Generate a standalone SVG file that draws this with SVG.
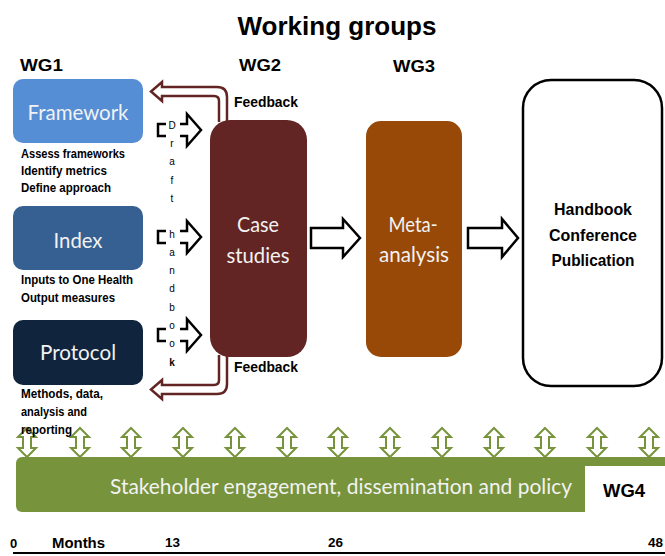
<svg xmlns="http://www.w3.org/2000/svg" width="665" height="556" viewBox="0 0 665 556">
<style>
.hd{font-family:"Liberation Sans",Arial,sans-serif;font-weight:bold;fill:#000}
.bx{font-family:Lato,"Open Sans",sans-serif;fill:#f2f2f2;text-anchor:middle}
.ds{font-family:"Liberation Sans",Arial,sans-serif;font-weight:bold;font-size:12px;fill:#000}
.lt{font-family:"Liberation Sans",Arial,sans-serif;font-size:10px;fill:#000;text-anchor:middle}
.blk{fill:#fff;stroke:#000;stroke-width:2.5;stroke-linejoin:miter}
.fb{fill:#fff;stroke:#632523;stroke-width:2.5}
.dbl{fill:#fff;stroke:#77933C;stroke-width:2}
</style>
<rect width="665" height="556" fill="#fff"/>
<text class="hd" x="337" y="35" font-size="26" text-anchor="middle" textLength="199" lengthAdjust="spacingAndGlyphs">Working groups</text>
<text class="hd" x="20" y="71" font-size="16" textLength="43" lengthAdjust="spacingAndGlyphs">WG1</text>
<text class="hd" x="239" y="71" font-size="16" textLength="42" lengthAdjust="spacingAndGlyphs">WG2</text>
<text class="hd" x="393" y="72" font-size="16" textLength="42" lengthAdjust="spacingAndGlyphs">WG3</text>

<g id="connectors">
  <path class="fb" d="M219,122 V101 Q219,96 214,96 H162 V101 L151,91.5 L162,82 V87 H217 Q227,87 227,97 V122"/>
  <path class="fb" d="M219,355 V380 Q219,385 214,385 H162 V380 L151,389.5 L162,399 V394 H217 Q227,394 227,384 V355"/>
  <path class="blk" d="M158,124 H187 V114 L201,130 L187,146 V136 H158 Z"/>
  <path class="blk" d="M158,231 H187 V221 L201,237 L187,253 V243 H158 Z"/>
  <path class="blk" d="M158,329 H187 V319 L201,335 L187,351 V341 H158 Z"/>
  <rect x="166" y="112" width="14" height="262" fill="#fff"/>
  <path class="blk" d="M311,228 H343 V219 L360,238 L343,257 V248 H311 Z"/>
  <path class="blk" d="M468,228 H502 V219 L518,238 L502,257 V248 H468 Z"/>
  <g id="stakeholder-arrows">
    <path class="dbl" d="M27,428 L36,437 H31 V448 H36 L27,457 L18,448 H23 V437 H18 Z"/>
    <path class="dbl" d="M80,428 L89,437 H84 V448 H89 L80,457 L71,448 H76 V437 H71 Z"/>
    <path class="dbl" d="M131,428 L140,437 H135 V448 H140 L131,457 L122,448 H127 V437 H122 Z"/>
    <path class="dbl" d="M183,428 L192,437 H187 V448 H192 L183,457 L174,448 H179 V437 H174 Z"/>
    <path class="dbl" d="M235,428 L244,437 H239 V448 H244 L235,457 L226,448 H231 V437 H226 Z"/>
    <path class="dbl" d="M287,428 L296,437 H291 V448 H296 L287,457 L278,448 H283 V437 H278 Z"/>
    <path class="dbl" d="M338,428 L347,437 H342 V448 H347 L338,457 L329,448 H334 V437 H329 Z"/>
    <path class="dbl" d="M390,428 L399,437 H394 V448 H399 L390,457 L381,448 H386 V437 H381 Z"/>
    <path class="dbl" d="M442,428 L451,437 H446 V448 H451 L442,457 L433,448 H438 V437 H433 Z"/>
    <path class="dbl" d="M494,428 L503,437 H498 V448 H503 L494,457 L485,448 H490 V437 H485 Z"/>
    <path class="dbl" d="M545,428 L554,437 H549 V448 H554 L545,457 L536,448 H541 V437 H536 Z"/>
    <path class="dbl" d="M597,428 L606,437 H601 V448 H606 L597,457 L588,448 H593 V437 H588 Z"/>
    <path class="dbl" d="M649,428 L658,437 H653 V448 H658 L649,457 L640,448 H645 V437 H640 Z"/>
  </g>
</g>

<g id="draft-handbook">
  <text class="lt" x="172" y="129">D</text>
  <text class="lt" x="172" y="147">r</text>
  <text class="lt" x="172" y="165">a</text>
  <text class="lt" x="172" y="184">f</text>
  <text class="lt" x="172" y="202">t</text>
  <text class="lt" x="172" y="238">h</text>
  <text class="lt" x="172" y="256">a</text>
  <text class="lt" x="172" y="274">n</text>
  <text class="lt" x="172" y="292">d</text>
  <text class="lt" x="172" y="311">b</text>
  <text class="lt" x="172" y="329">o</text>
  <text class="lt" x="172" y="347">o</text>
  <text class="lt" x="172" y="366" font-weight="bold">k</text>
</g>

<g id="framework">
  <rect x="13" y="79" width="130" height="64" rx="10" fill="#558ED5"/>
  <text class="bx" x="78" y="120" font-size="21" textLength="101" lengthAdjust="spacingAndGlyphs">Framework</text>
  <text class="ds" x="21" y="158" textLength="104" lengthAdjust="spacingAndGlyphs">Assess frameworks</text>
  <text class="ds" x="21" y="175" textLength="86" lengthAdjust="spacingAndGlyphs">Identify metrics</text>
  <text class="ds" x="21" y="192" textLength="90" lengthAdjust="spacingAndGlyphs">Define approach</text>
</g>
<g id="index">
  <rect x="13" y="206" width="130" height="64" rx="10" fill="#376092"/>
  <text class="bx" x="78" y="248" font-size="21" textLength="49" lengthAdjust="spacingAndGlyphs">Index</text>
  <text class="ds" x="21" y="284" textLength="112" lengthAdjust="spacingAndGlyphs">Inputs to One Health</text>
  <text class="ds" x="21" y="302" textLength="94" lengthAdjust="spacingAndGlyphs">Output measures</text>
</g>
<g id="protocol">
  <rect x="13" y="320" width="130" height="65" rx="10" fill="#10243E"/>
  <text class="bx" x="78" y="360" font-size="21" textLength="76" lengthAdjust="spacingAndGlyphs">Protocol</text>
  <text class="ds" x="21" y="398" textLength="82" lengthAdjust="spacingAndGlyphs">Methods, data,</text>
  <text class="ds" x="21" y="416" textLength="66" lengthAdjust="spacingAndGlyphs">analysis and</text>
  <text class="ds" x="21" y="434" textLength="51" lengthAdjust="spacingAndGlyphs">reporting</text>
</g>
<g id="case-studies">
  <rect x="210" y="120" width="97" height="237" rx="20" fill="#632523"/>
  <text class="bx" x="258" y="232" font-size="22" textLength="42" lengthAdjust="spacingAndGlyphs">Case</text>
  <text class="bx" x="258" y="263" font-size="22" textLength="63" lengthAdjust="spacingAndGlyphs">studies</text>
  <text class="hd" x="234" y="107" font-size="14" textLength="64" lengthAdjust="spacingAndGlyphs">Feedback</text>
  <text class="hd" x="234" y="372" font-size="14" textLength="64" lengthAdjust="spacingAndGlyphs">Feedback</text>
</g>
<g id="meta-analysis">
  <rect x="366" y="121" width="96" height="236" rx="15" fill="#984807"/>
  <text class="bx" x="413" y="232" font-size="22" textLength="49" lengthAdjust="spacingAndGlyphs">Meta-</text>
  <text class="bx" x="414" y="262" font-size="22" textLength="70" lengthAdjust="spacingAndGlyphs">analysis</text>
</g>
<g id="outputs">
  <rect x="523" y="80" width="139" height="306" rx="28" fill="#fff" stroke="#000" stroke-width="2.5"/>
  <text class="hd" x="593" y="215" font-size="17" text-anchor="middle" textLength="78" lengthAdjust="spacingAndGlyphs">Handbook</text>
  <text class="hd" x="593" y="241" font-size="17" text-anchor="middle" textLength="88" lengthAdjust="spacingAndGlyphs">Conference</text>
  <text class="hd" x="593" y="266" font-size="17" text-anchor="middle" textLength="83" lengthAdjust="spacingAndGlyphs">Publication</text>
</g>
<g id="stakeholder">
  <rect x="16" y="457" width="660" height="55" rx="6" fill="#77933C"/>
  <rect x="585" y="466" width="80" height="46" fill="#fff"/>
  <text x="110" y="494" font-family="Lato,'Open Sans',sans-serif" font-size="21" fill="#f2f2f2" textLength="462" lengthAdjust="spacingAndGlyphs">Stakeholder engagement, dissemination and policy</text>
  <text class="hd" x="603" y="497" font-size="18" textLength="42" lengthAdjust="spacingAndGlyphs">WG4</text>
</g>
<g id="timeline">
  <line x1="13" y1="553" x2="665" y2="553" stroke="#000" stroke-width="2"/>
  <text class="hd" x="10" y="548" font-size="13">0</text>
  <text class="hd" x="52" y="548" font-size="14" textLength="53" lengthAdjust="spacingAndGlyphs">Months</text>
  <text class="hd" x="165" y="547" font-size="13" textLength="15" lengthAdjust="spacingAndGlyphs">13</text>
  <text class="hd" x="328" y="547" font-size="13" textLength="15" lengthAdjust="spacingAndGlyphs">26</text>
  <text class="hd" x="648" y="547" font-size="13" textLength="15" lengthAdjust="spacingAndGlyphs">48</text>
</g>
</svg>
